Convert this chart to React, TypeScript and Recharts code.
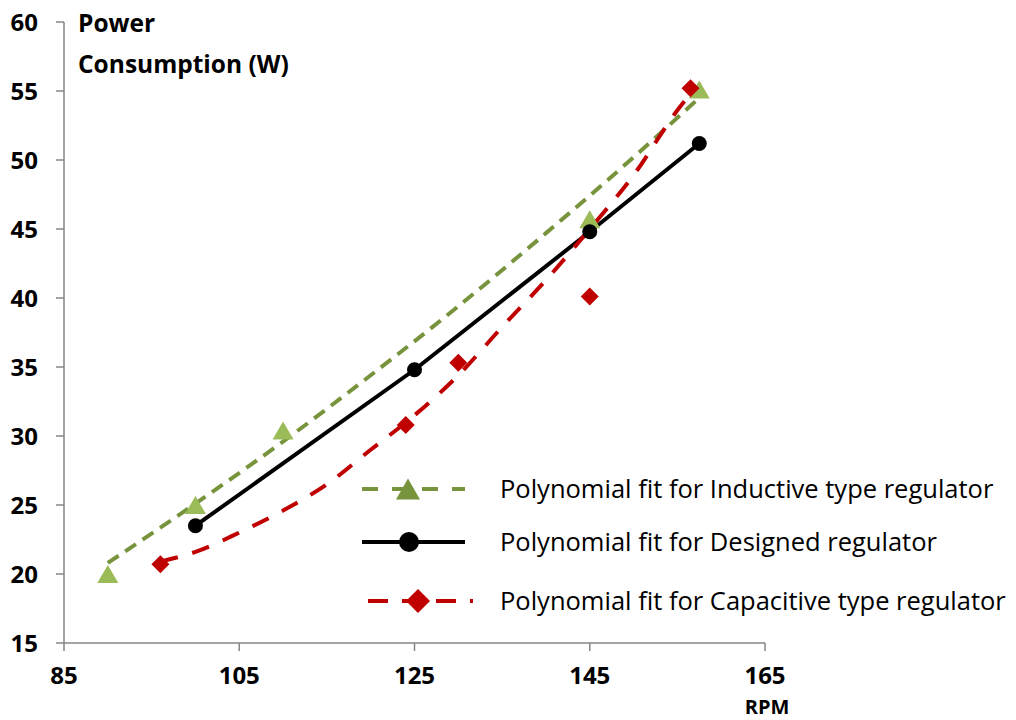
import React from 'react';
import { ComposedChart, Scatter, Line, XAxis, YAxis, Legend, Label } from 'recharts';

// measured points
const rpmInductive = [90, 100, 110, 145, 157.5];
const powerInductive = [20.0, 25.0, 30.4, 45.7, 55.1];
const rpmDesigned = [100, 125, 145, 157.5];
const powerDesigned = [23.5, 34.8, 44.8, 51.2];
const rpmCapacitive = [96, 124, 130, 145, 156.5];
const powerCapacitive = [20.7, 30.8, 35.3, 40.1, 55.2];

// polynomial trend lines
const fitInductiveRpm = [90, 100, 110, 120, 130, 140, 150, 158];
const fitInductivePower = [20.8, 25.1, 29.6, 34.4, 39.4, 44.7, 50.2, 54.8];
const fitCapacitiveRpm = [96, 100, 105, 110, 115, 120, 125, 130, 135, 140, 145, 150, 155, 157];
const fitCapacitivePower = [20.9, 21.6, 23.0, 24.6, 26.5, 29.0, 31.5, 34.4, 37.9, 41.3, 45.0, 48.9, 53.6, 55.2];

const xTicks = [85, 105, 125, 145, 165];
const yTicks = [15, 20, 25, 30, 35, 40, 45, 50, 55, 60];

const seriesNames = [
  'Polynomial fit for Inductive type regulator',
  'Polynomial fit for Designed regulator',
  'Polynomial fit for Capacitive type regulator',
];

const toPoints = (xs: number[], ys: number[]) => xs.map((x, i) => ({ x, y: ys[i] }));

const inductive = toPoints(rpmInductive, powerInductive);
const designed = toPoints(rpmDesigned, powerDesigned);
const capacitive = toPoints(rpmCapacitive, powerCapacitive);
const fitInductive = toPoints(fitInductiveRpm, fitInductivePower);
const fitCapacitive = toPoints(fitCapacitiveRpm, fitCapacitivePower);

const GREEN = '#9BBB59';
const GREEN_DARK = '#77933C';
const RED = '#C00000';
const AXIS = '#868686';
const FONT = '"Open Sans", sans-serif';

const triangle = (cx: number, cy: number, w: number, h: number, fill: string) => (
  <polygon
    points={`${cx - w / 2},${cy + h / 2} ${cx + w / 2},${cy + h / 2} ${cx},${cy - h / 2}`}
    fill={fill}
  />
);
const diamond = (cx: number, cy: number, r: number, fill: string) => (
  <polygon points={`${cx},${cy - r} ${cx + r},${cy} ${cx},${cy + r} ${cx - r},${cy}`} fill={fill} />
);

const TriangleShape = (p: any) => triangle(p.cx, p.cy, 21, 18, GREEN);
const CircleShape = (p: any) => <circle cx={p.cx} cy={p.cy} r={7.5} fill="#000" />;
const DiamondShape = (p: any) => diamond(p.cx, p.cy, 9, RED);

const renderLegend = () => {
  const rows = [21, 74, 133];
  return (
    <svg width={660} height={150} style={{ display: 'block' }}>
      <line x1={7} x2={110} y1={rows[0]} y2={rows[0]} stroke={GREEN_DARK} strokeWidth={4} strokeDasharray="16 14" />
      {triangle(53, rows[0], 24, 21, GREEN_DARK)}
      <line x1={7} x2={110} y1={rows[1]} y2={rows[1]} stroke="#000" strokeWidth={4} />
      <circle cx={54} cy={rows[1]} r={10} fill="#000" />
      <line x1={13} x2={118} y1={rows[2]} y2={rows[2]} stroke={RED} strokeWidth={4} strokeDasharray="20 14" />
      {diamond(63, rows[2], 12, RED)}
      {seriesNames.map((n, i) => (
        <text key={n} x={145} y={rows[i]} dy="0.36em" fontSize={25.5} fontFamily={FONT} fill="#000">
          {n}
        </text>
      ))}
    </svg>
  );
};

export default function App() {
  return (
    <div style={{ position: 'absolute', left: 0, top: 0, background: '#fff' }}>
      <ComposedChart width={1016} height={720} margin={{ top: 22, right: 251, bottom: 0, left: 4 }}>
        <XAxis
          type="number"
          dataKey="x"
          domain={[85, 165]}
          ticks={xTicks}
          allowDataOverflow
          height={77}
          axisLine={{ stroke: AXIS, strokeWidth: 1.5 }}
          tickLine={{ stroke: AXIS, strokeWidth: 1.5 }}
          tickSize={8}
          tickMargin={16}
          tick={{ fill: '#000', fontSize: 24, fontWeight: 700, fontFamily: FONT }}
        >
          <Label
            content={(props: any) => {
              const vb = props.viewBox;
              return (
                <text x={vb.x + vb.width + 2} y={vb.y + 71} textAnchor="middle" fontSize={20} fontWeight={700} fontFamily={FONT} fill="#000">
                  RPM
                </text>
              );
            }}
          />
        </XAxis>
        <YAxis
          type="number"
          dataKey="y"
          domain={[15, 60]}
          ticks={yTicks}
          allowDataOverflow
          width={60}
          axisLine={{ stroke: AXIS, strokeWidth: 1.5 }}
          tickLine={{ stroke: AXIS, strokeWidth: 1.5 }}
          tickSize={8}
          tickMargin={18}
          tick={{ fill: '#000', fontSize: 24, fontWeight: 700, fontFamily: FONT }}
        >
          <Label
            content={(props: any) => {
              const vb = props.viewBox;
              const x = vb.x + vb.width + 14;
              return (
                <g fontSize={24.5} fontWeight={700} fontFamily={FONT} fill="#000">
                  <text x={x} y={vb.y + 10}>Power</text>
                  <text x={x} y={vb.y + 51}>Consumption (W)</text>
                </g>
              );
            }}
          />
        </YAxis>
        <Legend
          layout="horizontal"
          verticalAlign="middle"
          align="center"
          content={renderLegend}
          wrapperStyle={{ left: 355, top: 468, width: 660 }}
        />
        <Scatter data={inductive} shape={TriangleShape} isAnimationActive={false} />
        <Scatter data={designed} shape={CircleShape} isAnimationActive={false} />
        <Scatter data={capacitive} shape={DiamondShape} isAnimationActive={false} />
        <Line
          data={fitInductive}
          dataKey="y"
          type="monotone"
          stroke={GREEN_DARK}
          strokeWidth={4}
          strokeDasharray="13 8"
          dot={false}
          isAnimationActive={false}
        />
        <Line
          data={designed}
          dataKey="y"
          type="linear"
          stroke="#000"
          strokeWidth={4}
          dot={false}
          isAnimationActive={false}
        />
        <Line
          data={fitCapacitive}
          dataKey="y"
          type="monotone"
          stroke={RED}
          strokeWidth={4}
          strokeDasharray="18 15"
          dot={false}
          isAnimationActive={false}
        />
      </ComposedChart>
    </div>
  );
}
